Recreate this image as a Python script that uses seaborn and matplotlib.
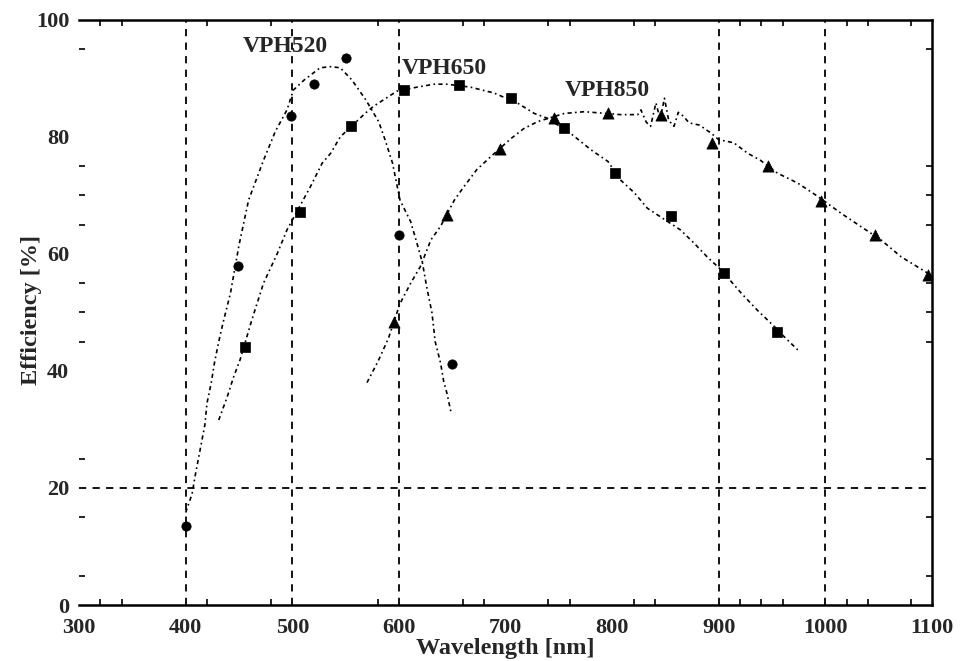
import matplotlib
matplotlib.use("Agg")
import matplotlib.pyplot as plt
import seaborn as sns
import pandas as pd

# Measured grating efficiencies (markers)
vph520_wl = [400, 449, 499, 520, 550, 600, 650]
vph520_eff = [13.5, 58.0, 83.6, 89.0, 93.5, 63.2, 41.2]

vph650_wl = [456, 507, 555, 605, 656, 705, 755, 803, 855, 905, 955]
vph650_eff = [44.1, 67.2, 81.8, 88.0, 88.8, 86.7, 81.5, 73.8, 66.4, 56.7, 46.7]

vph850_wl = [595, 645, 695, 745, 796, 846, 894, 946, 996, 1046, 1096]
vph850_eff = [48.4, 66.7, 78.0, 83.3, 84.0, 83.8, 79.0, 75.0, 69.0, 63.2, 56.4]

# Model efficiency curves
vph520_curve_wl = [400, 406, 409, 413, 418, 420, 424, 427, 431, 435, 442, 450, 459, 473,
                   484, 495, 501, 511, 526, 536, 545, 556, 569, 581, 587, 594, 601, 611,
                   616, 622, 626, 631, 634, 639, 642, 645, 649]
vph520_curve_eff = [15.8, 19.0, 22.2, 26.0, 30.8, 34.5, 38.0, 41.4, 45.0, 48.2, 53.3, 61.5,
                    69.2, 76.0, 80.9, 84.6, 88.0, 89.7, 91.8, 92.0, 91.8, 89.7, 86.3, 82.6,
                    79.5, 75.5, 69.2, 65.5, 62.4, 58.5, 54.4, 49.9, 45.0, 41.4, 38.2, 36.2,
                    32.8]

vph650_curve_wl = [431, 439, 445, 451, 462, 473, 486, 495, 506, 517, 528, 536, 545, 567,
                   576, 598, 617, 633, 645, 667, 689, 711, 727, 739, 761, 780, 796, 808,
                   821, 833, 864, 877, 889, 902, 921, 936, 952, 961, 974]
vph650_curve_eff = [31.6, 35.6, 39.0, 41.9, 48.7, 55.0, 60.1, 64.1, 67.8, 71.5, 75.5, 77.2,
                    80.0, 83.8, 85.2, 87.8, 88.5, 89.0, 89.0, 88.5, 87.5, 85.8, 84.0, 83.2,
                    80.6, 77.8, 75.8, 72.6, 70.4, 67.8, 64.1, 61.8, 59.5, 57.3, 53.3, 50.4,
                    47.6, 45.9, 43.6]

vph850_curve_wl = [570, 580, 590, 601, 611, 620, 630, 639, 652, 661, 673, 686, 705, 717,
                   730, 755, 774, 808, 824, 827, 832, 836, 841, 845, 849, 853, 858, 862,
                   867, 872, 882, 893, 900, 914, 927, 939, 955, 974, 993, 1015, 1033,
                   1052, 1071, 1096]
vph850_curve_eff = [38.0, 41.5, 45.5, 51.5, 55.0, 57.8, 62.4, 64.7, 69.2, 71.5, 74.4, 76.6,
                    79.7, 81.4, 82.6, 84.0, 84.3, 83.8, 83.8, 84.6, 82.5, 81.8, 85.8, 83.0,
                    86.6, 82.8, 81.8, 84.2, 83.5, 82.4, 82.0, 80.6, 79.5, 79.0, 77.2, 76.0,
                    73.8, 72.1, 69.8, 66.9, 64.7, 62.4, 59.5, 56.7]

grating_names = ["VPH520", "VPH650", "VPH850"]
label_wl = [493, 643, 795]
label_eff = [95.4, 91.6, 88.0]

x_ticks = [300, 400, 500, 600, 700, 800, 900, 1000, 1100]
y_ticks = [0, 20, 40, 60, 80, 100]
x_minor = [320, 340, 420, 480, 580, 660, 680, 740, 760, 820, 840, 920, 940, 960,
           1020, 1040, 1080]
y_minor = [5, 15, 25, 45, 50, 55, 65, 70, 75, 95]
x_grid = [400, 500, 600, 900, 1000]
y_grid = [20]

sns.set_style("white")
plt.rcParams["font.family"] = ["Liberation Serif", "DejaVu Serif"]
plt.rcParams["font.weight"] = "bold"

fig = plt.figure(figsize=(9.76, 6.61), dpi=100)
ax = fig.add_axes([0.081, 0.0847, 0.874, 0.8853])

for xg in x_grid:
    ax.axvline(xg, color="black", lw=1.3, ls=(0, (4, 3.5)), zorder=1)
for yg in y_grid:
    ax.axhline(yg, color="black", lw=1.3, ls=(0, (4, 3.5)), zorder=1)

curves = [
    (vph520_curve_wl, vph520_curve_eff, vph520_wl, vph520_eff, "o", 45),
    (vph650_curve_wl, vph650_curve_eff, vph650_wl, vph650_eff, "s", 62),
    (vph850_curve_wl, vph850_curve_eff, vph850_wl, vph850_eff, "^", 65),
]
for cwl, ceff, mwl, meff, mk, ms in curves:
    cdf = pd.DataFrame({"wl": cwl, "eff": ceff})
    sns.lineplot(data=cdf, x="wl", y="eff", ax=ax, color="black", lw=1.2,
                 linestyle=(0, (2.5, 2.0, 1.0, 2.0)), sort=False, zorder=3)
    mdf = pd.DataFrame({"wl": mwl, "eff": meff})
    sns.scatterplot(data=mdf, x="wl", y="eff", ax=ax, color="black", marker=mk,
                    s=ms, edgecolor="black", linewidth=0.5, zorder=4)

for name, lx, ly in zip(grating_names, label_wl, label_eff):
    ax.text(lx, ly, name, ha="center", va="center", fontsize=17,
            fontweight="bold", zorder=5)

ax.set_xlim(300, 1100)
ax.set_ylim(0, 100)
ax.set_xticks(x_ticks)
ax.set_yticks(y_ticks)
ax.set_xticks(x_minor, minor=True)
ax.set_yticks(y_minor, minor=True)
ax.set_xticklabels([str(v) for v in x_ticks])
ax.set_yticklabels([str(v) for v in y_ticks])
ax.tick_params(which="major", length=0, labelsize=16, pad=9)
ax.tick_params(axis="y", which="major", pad=7)
ax.tick_params(which="minor", direction="in", length=4, width=1.2,
               top=True, right=True, bottom=True, left=True, color="black")
for lab in ax.get_xticklabels() + ax.get_yticklabels():
    lab.set_fontweight("bold")

ax.spines["left"].set_visible(False)
for side in ["top", "bottom", "right"]:
    ax.spines[side].set_color("black")
    ax.spines[side].set_linewidth(1.8)

ax.set_xlabel("Wavelength [nm]", fontsize=17.5, fontweight="bold", labelpad=0)
ax.set_ylabel("Efficiency [%]", fontsize=17.5, fontweight="bold")
ax.yaxis.set_label_coords(-0.0434, 0.504)

fig.savefig("out.png", dpi=100, facecolor="white")
